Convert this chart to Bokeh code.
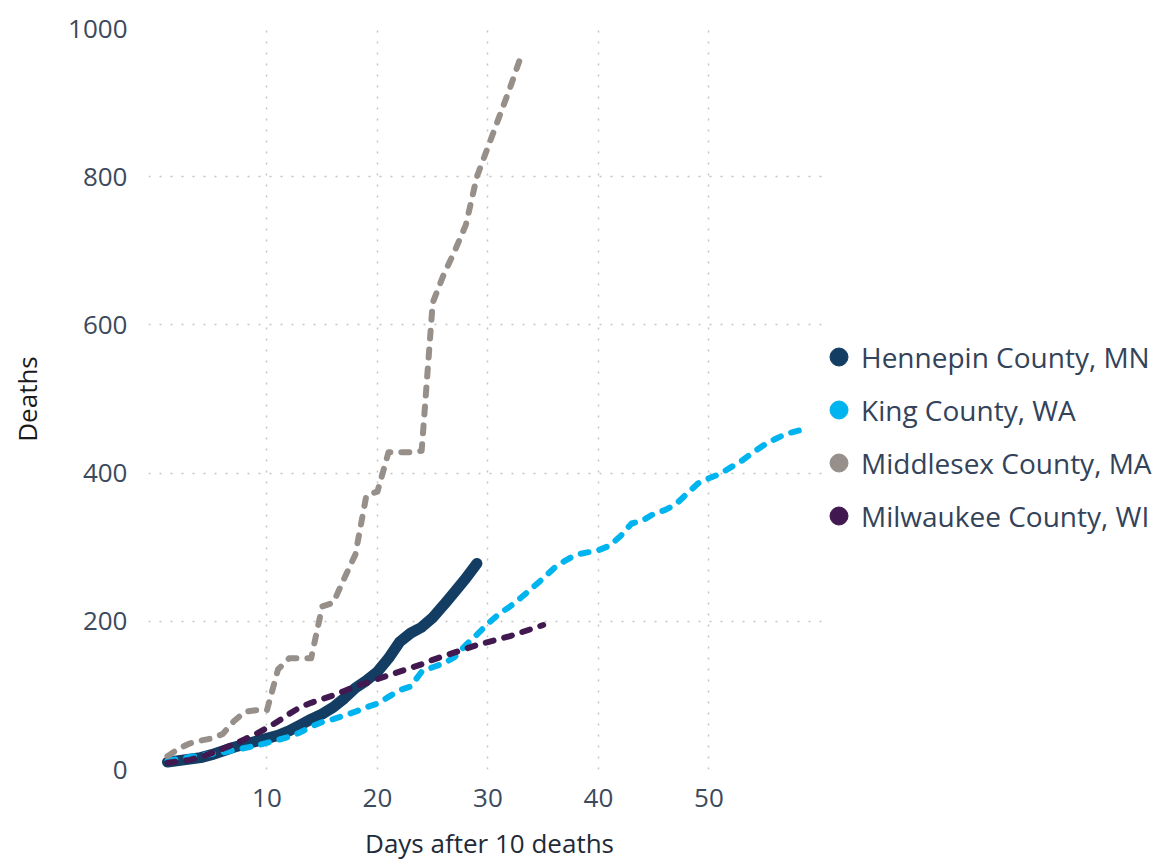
from bokeh.plotting import figure
from bokeh.models import Range1d, FixedTicker, Legend, LegendItem
from bokeh.embed import file_html
from bokeh.resources import INLINE

# ---- data ----
series_names = ["Hennepin County, MN", "King County, WA", "Middlesex County, MA", "Milwaukee County, WI"]

hennepin = [10, 12, 14, 16, 20, 25, 30, 34, 38, 42, 46, 52, 60, 68, 75, 84, 96, 110, 120, 132,
            150, 172, 184, 192, 205, 222, 240, 258, 278]
king = [12, 14, 17, 19, 21, 23, 26, 29, 32, 36, 40, 44, 50, 58, 64, 68, 73, 78, 84, 89,
        98, 107, 112, 132, 138, 143, 152, 168, 182, 197, 210, 220, 232, 245, 258, 272, 282, 290, 293, 296,
        302, 315, 332, 336, 345, 350, 358, 372, 386, 393, 399, 408, 417, 428, 438, 446, 453, 457, 460]
middlesex = [18, 28, 35, 39, 42, 48, 65, 78, 80, 80, 135, 150, 150, 150, 220, 225, 258, 290, 370, 375,
             428, 428, 428, 430, 630, 668, 700, 735, 800, 840, 880, 920, 963]
milwaukee = [9, 11, 13, 17, 22, 28, 34, 41, 48, 56, 65, 75, 84, 90, 95, 100, 106, 112, 117, 122,
             127, 132, 137, 142, 148, 153, 158, 163, 168, 172, 176, 180, 185, 190, 195]

x_ticks = [10, 20, 30, 40, 50]
y_ticks = [0, 200, 400, 600, 800, 1000]

colors = ["#143D63", "#00B4EF", "#978F8A", "#41184F"]

def days(vals):
    return list(range(1, len(vals) + 1))

p = figure(frame_width=682, frame_height=741,
           min_border_left=148, min_border_top=28, min_border_right=314, min_border_bottom=77,
           x_range=Range1d(-0.72, 61.0), y_range=Range1d(0, 1000),
           output_backend="svg", toolbar_location=None)
p.outline_line_color = None
p.background_fill_color = "white"
p.border_fill_color = "white"

# axes
p.xaxis.ticker = FixedTicker(ticks=x_ticks)
p.yaxis.ticker = FixedTicker(ticks=y_ticks)
for ax in (p.xaxis[0], p.yaxis[0]):
    ax.axis_line_color = None
    ax.major_tick_line_color = None
    ax.minor_tick_line_color = None
    ax.major_tick_in = 0
    ax.major_tick_out = 0
    ax.major_label_text_font = "Open Sans"
    ax.major_label_text_font_size = "26px"
    ax.major_label_text_color = "#3B4A5C"
    ax.axis_label_text_font = "Open Sans"
    ax.axis_label_text_font_style = "normal"
    ax.axis_label_text_font_size = "26px"

p.xaxis.axis_label = "Days after 10 deaths"
p.xaxis.axis_label_text_color = "#1F2A38"
p.xaxis.major_label_standoff = 19
p.xaxis.axis_label_standoff = 15
p.yaxis.axis_label = "Deaths"
p.yaxis.axis_label_text_color = "#1A1A1A"
p.yaxis.major_label_standoff = 21
p.yaxis.axis_label_standoff = 20

# grids
p.xgrid.ticker = FixedTicker(ticks=x_ticks)
p.ygrid.ticker = FixedTicker(ticks=y_ticks)
for g in (p.xgrid[0], p.ygrid[0]):
    g.grid_line_color = "#C4C4C4"
    g.grid_line_width = 1.5
    g.grid_line_dash = "2 9"

# lines
p.line(days(hennepin), hennepin, line_color=colors[0], line_width=11,
       line_cap="round", line_join="round")
p.line(days(king), king, line_color=colors[1], line_width=6, line_dash="8 11",
       line_cap="round", line_join="round")
p.line(days(middlesex), middlesex, line_color=colors[2], line_width=6, line_dash="8 11",
       line_cap="round", line_join="round")
p.line(days(milwaukee), milwaukee, line_color=colors[3], line_width=6, line_dash="8 11",
       line_cap="round", line_join="round")

# legend with round dots (proxy renderers placed outside the visible range)
items = []
for name, c in zip(series_names, colors):
    r = p.scatter([-50], [-500], marker="circle", size=18, fill_color=c, line_color=c)
    items.append(LegendItem(label=name, renderers=[r]))

legend = Legend(items=items, location=(-14, 231),
                glyph_width=45, glyph_height=45, label_height=45, spacing=8,
                label_standoff=0, padding=0, margin=0,
                border_line_color=None, background_fill_alpha=0,
                label_text_font="Open Sans", label_text_font_size="28px",
                label_text_color="#33435A")
p.add_layout(legend, "right")

open("out.html", "w").write(file_html(p, INLINE))
